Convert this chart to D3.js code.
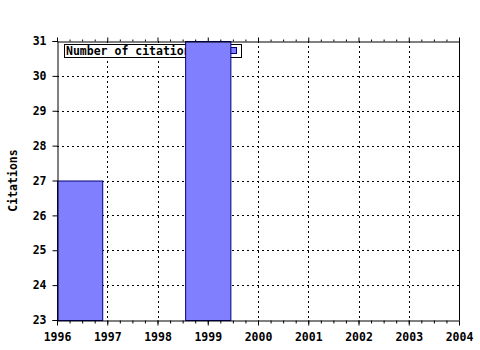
<!DOCTYPE html>
<html>
<head>
<meta charset="utf-8">
<script src="https://cdnjs.cloudflare.com/ajax/libs/d3/7.8.5/d3.min.js"></script>
<style>
    body { margin: 0; background: #fff; }
    text { font-family: "DejaVu Sans Mono", "Liberation Mono", monospace; font-weight: bold; font-size: 11px; fill: #000; }
</style>
</head>
<body>
<div id="chart"></div>
<script>
// --- Data ---
const years = [1996, 1999];
const citations = [27, 31];
const xTicks = [1996, 1997, 1998, 1999, 2000, 2001, 2002, 2003, 2004];
const yTicks = [23, 24, 25, 26, 27, 28, 29, 30, 31];
const seriesName = 'Number of citations';
const yTitle = 'Citations';

// --- Layout ---
const width = 480, height = 350;
const margin = { top: 41, right: 21, bottom: 30, left: 57 };
const plotW = width - margin.left - margin.right;
const plotH = height - margin.top - margin.bottom;

const svg = d3.select('#chart')
    .append('svg')
    .attr('width', width)
    .attr('height', height);

const g = svg.append('g')
    .attr('transform', `translate(${margin.left},${margin.top})`);

const x = d3.scaleLinear().domain([1996, 2004]).range([0, plotW]);
const y = d3.scaleLinear().domain([23, 31]).range([plotH, 0]);

// grid
g.append('g')
    .selectAll('line')
    .data(xTicks.slice(1, -1))
    .join('line')
    .attr('x1', d => Math.round(x(d)) + 0.5)
    .attr('x2', d => Math.round(x(d)) + 0.5)
    .attr('y1', 0)
    .attr('y2', plotH)
    .attr('stroke', '#000')
    .attr('stroke-dasharray', '2,3');

g.append('g')
    .selectAll('line')
    .data(yTicks.slice(1, -1))
    .join('line')
    .attr('x1', 0)
    .attr('x2', plotW)
    .attr('y1', d => Math.round(y(d)) + 0.5)
    .attr('y2', d => Math.round(y(d)) + 0.5)
    .attr('stroke', '#000')
    .attr('stroke-dasharray', '2,3');

// legend (bars get drawn on top of it)
const legend = g.append('g').attr('transform', 'translate(7,3)');
legend.append('rect')
    .attr('x', 0.5).attr('y', 0.5)
    .attr('width', 177).attr('height', 13)
    .attr('fill', '#fff').attr('stroke', '#000');
legend.append('text')
    .attr('x', 2).attr('y', 11)
    .style('font-size', '11.5px')
    .text(seriesName);
legend.append('rect')
    .attr('x', 166.5).attr('y', 3.5)
    .attr('width', 6).attr('height', 6)
    .attr('fill', '#8080ff').attr('stroke', '#000080');

// bars, 0.9 year wide, pushed inside the plot when they would overflow
const barW = x(1996.9) - x(1996);
g.append('g')
    .selectAll('rect')
    .data(years.map((yr, i) => ({ yr, v: citations[i] })))
    .join('rect')
    .attr('x', d => Math.max(0, x(d.yr) - barW / 2) + 0.5)
    .attr('y', d => y(d.v) + 0.5)
    .attr('width', barW)
    .attr('height', d => plotH - y(d.v))
    .attr('fill', '#8080ff')
    .attr('stroke', '#000080');

// axes
const minor = d3.range(1996, 2004.001, 0.25);

const bottomAxis = g.append('g')
    .attr('transform', `translate(0,${plotH + 0.5})`)
    .call(d3.axisBottom(x).tickValues(minor).tickSize(3).tickFormat(''));
bottomAxis.append('g')
    .call(d3.axisBottom(x).tickValues(xTicks).tickSize(5).tickPadding(7).tickFormat(d3.format('d')))
    .call(a => a.select('.domain').remove())
    .selectAll('text').attr('fill', '#000').style('font-size', '11.5px');

const topAxis = g.append('g')
    .attr('transform', 'translate(0,0.5)')
    .call(d3.axisTop(x).tickValues(minor.filter(d => !xTicks.includes(d))).tickSize(2).tickFormat(''));
topAxis.append('g')
    .call(d3.axisTop(x).tickValues(xTicks).tickSize(4).tickFormat(''))
    .call(a => a.select('.domain').remove());

g.append('g')
    .attr('transform', 'translate(0.5,0)')
    .call(d3.axisLeft(y).tickValues(yTicks).tickSize(5).tickPadding(6).tickFormat(d3.format('d')))
    .selectAll('text').attr('fill', '#000').style('font-size', '11.5px');

g.append('line')
    .attr('x1', plotW + 0.5).attr('x2', plotW + 0.5)
    .attr('y1', 0).attr('y2', plotH)
    .attr('stroke', '#000');

g.selectAll('.domain, .tick line').attr('stroke', '#000');

// y title
svg.append('text')
    .attr('transform', `translate(17,${margin.top + plotH / 2}) rotate(-90)`)
    .attr('text-anchor', 'middle')
    .style('font-size', '11.5px')
    .text(yTitle);
</script>
</body>
</html>
